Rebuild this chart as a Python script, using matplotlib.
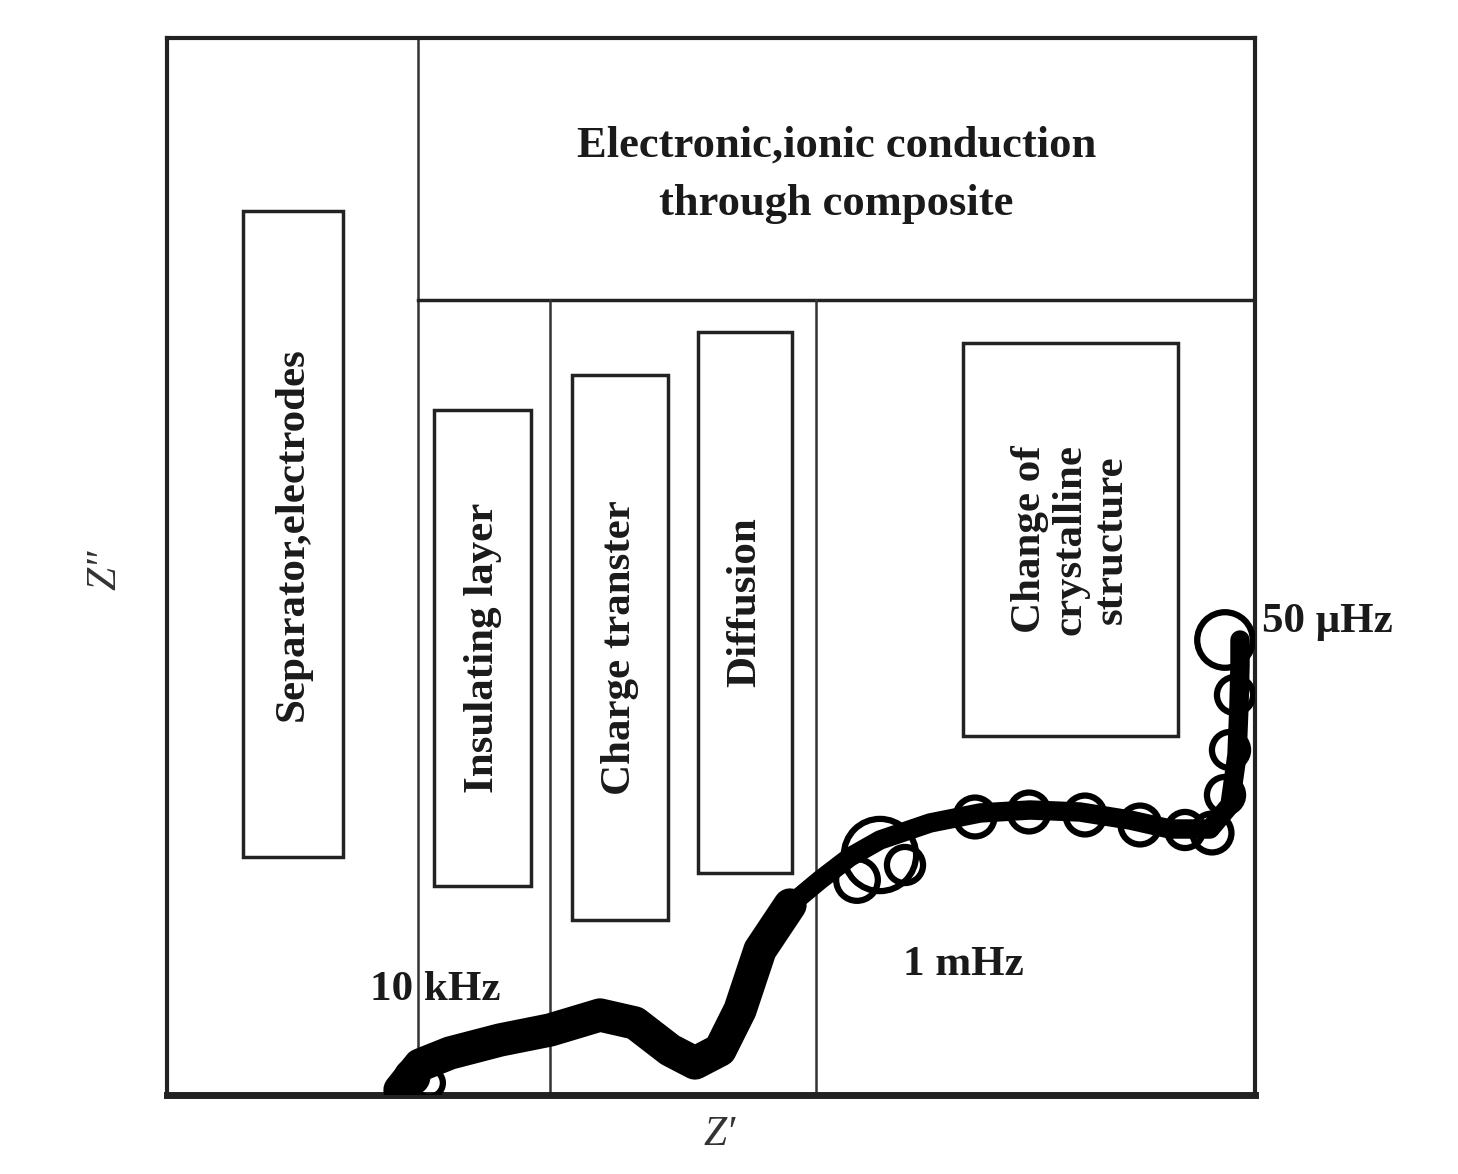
import matplotlib.pyplot as plt
from matplotlib.patches import Rectangle

# schematic Nyquist plot, arbitrary units (0..1088 along Z', 0..1057 along Z'')
x_max, y_max = 1088, 1057

# region dividers
div_full_x = 251
div_mid_y = 795
div_low_x = [383, 649]

# labelled boxes: (x0, y0, width, height, label)
box_x0 = [76, 267, 405, 531, 796]
box_y0 = [238, 209, 175, 222, 359]
box_w = [100, 97, 96, 94, 215]
box_h = [646, 476, 545, 541, 393]
box_labels = ["Separator,electrodes", "Insulating layer", "Charge transter",
              "Diffusion", "Change of\ncrystalline\nstructure"]

# impedance curve
z_re = [233, 253, 283, 333, 383, 433, 468, 503, 528, 553, 573, 593, 623, 653,
        683, 713, 763, 813, 863, 913, 963, 1003, 1043, 1063, 1070, 1072, 1073, 1073]
z_im = [5, 30, 42, 55, 65, 80, 72, 45, 32, 45, 85, 145, 190, 215,
        238, 255, 272, 282, 285, 283, 275, 266, 266, 290, 340, 390, 430, 455]
n_blob = 13  # high-frequency part drawn as a heavy smear

# hollow markers on the curve
m_re = [245, 262, 690, 713, 738, 808, 862, 918, 973, 1018, 1045, 1058, 1063, 1068, 1058]
m_im = [18, 12, 215, 240, 230, 278, 283, 280, 270, 265, 262, 300, 345, 400, 455]
m_size = [22, 20, 30, 52, 26, 28, 28, 28, 28, 26, 28, 26, 26, 26, 40]

fig = plt.figure(figsize=(14.58, 11.74), dpi=100)
ax = fig.add_axes([167 / 1458, 79 / 1174, 1088 / 1458, 1057 / 1174])
ax.set_xlim(0, x_max)
ax.set_ylim(0, y_max)
ax.set_xticks([])
ax.set_yticks([])
for side, lw in [("left", 3), ("right", 3), ("top", 3), ("bottom", 5)]:
    ax.spines[side].set_linewidth(lw)
    ax.spines[side].set_color("#222222")

ax.plot([div_full_x, div_full_x], [0, y_max], color="#333333", lw=1.8)
ax.plot([div_full_x, x_max], [div_mid_y, div_mid_y], color="#222222", lw=2.5)
for xv in div_low_x:
    ax.plot([xv, xv], [0, div_mid_y], color="#333333", lw=1.8)

font = dict(family="Liberation Serif", fontweight="bold", color="#1a1a1a")

for x0, y0, w, h, lab in zip(box_x0, box_y0, box_w, box_h, box_labels):
    ax.add_patch(Rectangle((x0, y0), w, h, fill=False, edgecolor="#222222", lw=2.5))
    ax.text(x0 + w / 2, y0 + h / 2, lab, rotation=90, ha="center", va="center",
            fontsize=31, linespacing=1.1, **font)

ax.text((div_full_x + x_max) / 2, 920, "Electronic,ionic conduction\nthrough composite",
        ha="center", va="center", fontsize=32, linespacing=1.6, **font)

ax.plot(z_re[:n_blob], z_im[:n_blob], color="black", lw=24,
        solid_capstyle="round", solid_joinstyle="round", zorder=5)
ax.plot(z_re, z_im, color="black", lw=14, solid_capstyle="round",
        solid_joinstyle="round", zorder=5)
ax.scatter(m_re, m_im, s=[v ** 2 for v in m_size], facecolors="none",
           edgecolors="black", linewidths=4.5, zorder=6)

ax.text(268, 105, "10 kHz", ha="center", va="center", fontsize=31, **font)
ax.text(796, 130, "1 mHz", ha="center", va="center", fontsize=31, **font)
ax.text(1095, 473, "50 \u03bcHz", ha="left", va="center", fontsize=31,
        clip_on=False, **font)

ax.text(-62, 525, "Z\u2033", rotation=90, ha="center", va="center", fontsize=30,
        family="Liberation Serif", style="italic", color="#333333")
ax.text(553, -40, "Z\u2032", ha="center", va="center", fontsize=30,
        family="Liberation Serif", style="italic", color="#333333")

fig.savefig("out.png", dpi=100, facecolor="white")
